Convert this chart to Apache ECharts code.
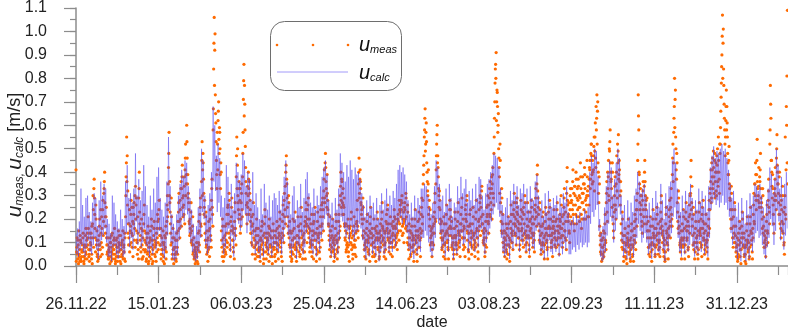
<!DOCTYPE html>
<html>
<head>
<meta charset="utf-8">
<title>u_meas / u_calc</title>
<script src="https://cdn.jsdelivr.net/npm/echarts@6.0.0/dist/echarts.min.js"></script>
<style>
html, body { margin: 0; padding: 0; background: #fff; }
#main { width: 788px; height: 330px; }
</style>
</head>
<body>
<div id="main"></div>
<script>
// record starts 26.11.22; measured values every 4 h (two sets of 3/day), calculated every 12 h
var startDate = new Date(2022, 10, 26);
var measPerDay = 3;
var calcPerDay = 2;
var dateLabels = ['26.11.22', '15.01.23', '06.03.23', '25.04.23', '14.06.23',
                  '03.08.23', '22.09.23', '11.11.23', '31.12.23'];

// flow speed in cm/s (one row = 10 days)
// measured, readings at 0, 8, 16 h
var uMeasCm = [
  41,6,12, 3,9,15, 5,2,11, 10,4,7, 6,14,2, 4,9,13, 16,8,3, 12,21,7, 5,14,10, 9,3,17,
  18,30,8, 37,22,12, 26,9,15, 5,11,3, 13,20,7, 24,10,16, 8,28,19, 33,40,21, 17,25,9, 6,12,4,
  3,8,12, 10,2,6, 14,5,9, 7,16,3, 2,11,8, 12,4,15, 6,9,2, 13,7,10, 4,15,6, 9,3,12,
  21,38,55, 47,32,18, 12,24,9, 17,28,14, 8,19,25, 22,11,30, 34,26,15, 10,21,7, 29,40,18, 13,6,20,
  9,15,4, 18,26,11, 7,14,3, 12,5,17, 2,10,6, 15,8,20, 5,11,2, 13,19,8, 4,9,14, 16,22,10,
  20,28,13, 9,16,5, 12,7,15, 4,10,13, 8,17,6, 19,30,24, 42,57,36, 23,14,29, 10,5,16, 7,12,3,
  5,11,2, 14,8,19, 23,31,16, 28,20,36, 33,43,25, 30,22,38, 41,52,35, 60,46,39, 31,24,18, 20,14,27,
  15,9,21, 6,12,4, 3,8,5, 10,2,7, 14,19,9, 22,29,17, 36,53,41, 44,31,25, 18,11,23, 9,15,6,
  12,19,8, 16,24,11, 28,37,22, 58,84,106, 92,73,61, 45,33,52, 62,70,48, 57,39,44, 15,8,20, 6,12,4,
  9,17,5, 14,22,10, 26,18,31, 12,7,19, 21,29,15, 11,6,16, 19,27,13, 38,55,43, 30,24,36, 22,33,17,
  27,35,21, 48,71,86, 77,58,42, 31,22,27, 25,40,33, 36,28,19, 14,21,9, 18,27,12, 8,15,5, 13,20,7,
  10,16,6, 4,11,8, 15,9,19, 7,13,3, 18,24,12, 6,10,14, 11,5,17, 20,13,8, 9,15,4, 12,18,7,
  8,13,5, 15,10,19, 6,12,9, 17,23,11, 10,4,14, 19,26,13, 28,21,34, 40,47,35, 25,17,30, 12,19,8,
  6,14,3, 11,20,8, 16,9,23, 4,10,7, 13,21,17, 9,15,5, 18,25,12, 7,13,10, 14,6,19, 21,27,15,
  24,17,29, 12,20,8, 15,9,22, 6,13,18, 19,11,25, 8,14,5, 16,23,12, 10,6,17, 21,14,26, 18,29,24,
  32,41,27, 48,36,30, 39,28,22, 17,11,21, 9,15,6, 13,20,10, 7,12,4, 16,22,11, 10,6,14, 19,26,15,
  30,40,25, 36,27,33, 22,29,17, 11,18,7, 14,8,20, 6,12,16, 17,10,23, 9,15,5, 13,21,11, 8,14,18,
  19,28,15, 35,46,31, 41,33,26, 24,18,29, 12,20,9, 7,14,11, 16,22,13, 10,5,15, 18,25,14, 9,16,6,
  13,20,8, 5,11,15, 17,23,12, 8,14,4, 12,18,10, 20,27,16, 9,15,6, 14,7,19, 22,16,26, 11,18,8,
  15,21,10, 8,13,17, 19,11,24, 13,20,16, 10,18,14, 22,15,28, 18,26,21, 24,30,17, 14,23,19, 27,20,31,
  21,15,26, 12,7,18, 9,15,5, 14,20,11, 6,12,9, 17,24,13, 10,5,15, 19,13,23, 8,16,12, 22,29,18,
  28,39,47, 58,67,52, 61,44,36, 30,41,25, 17,24,12, 10,16,7, 14,21,18, 23,31,19, 41,52,60, 47,38,30,
  32,24,18, 12,19,8, 15,9,21, 6,13,10, 18,26,14, 11,7,16, 20,28,24, 13,19,9, 7,12,5, 16,23,12,
  10,17,7, 19,27,14, 8,13,18, 22,15,29, 12,20,9, 16,8,24, 26,19,30, 11,17,6, 14,22,18, 9,15,12,
  18,25,13, 7,14,10, 20,28,16, 12,6,19, 24,17,30, 29,21,34, 15,22,11, 9,16,6, 19,12,25, 22,30,18,
  26,33,21, 31,24,38, 35,42,29, 48,63,78, 86,91,70, 74,57,65, 46,38,52, 27,19,33, 14,22,10, 8,15,12,
  11,18,6, 16,9,21, 5,12,8, 19,26,14, 10,15,22, 24,31,18, 13,20,27, 29,22,16, 12,18,9, 21,28,15,
  16,23,11, 25,18,30, 9,15,13, 20,27,17, 12,7,19, 23,16,28, 14,21,10, 18,11,24, 26,33,21, 35,43,29,
  22,15,27, 10,17,7, 14,21,18, 6,12,9, 19,25,14, 11,8,16, 23,17,28, 13,20,10, 8,14,19, 17,24,12,
  12,19,8, 20,27,15, 9,14,17, 22,16,30, 13,21,10, 18,25,33, 15,23,11, 31,42,26, 19,27,14, 24,33,18,
  28,19,36, 22,31,15, 34,26,40, 18,29,24, 37,21,30, 25,44,33, 16,27,38, 31,20,35, 39,28,23, 26,45,32,
  30,21,37, 41,33,48, 52,39,45, 36,47,55, 49,61,42, 58,73,66, 44,31,38, 17,9,14, 5,11,3, 8,15,6,
  14,22,10, 27,36,19, 33,45,28, 49,58,40, 37,29,44, 21,15,26, 30,38,24, 35,47,29, 44,56,39, 41,30,36,
  18,11,23, 7,13,4, 10,16,6, 3,9,12, 14,20,8, 6,11,2, 12,18,15, 5,9,13, 16,22,10, 20,28,24,
  45,73,58, 39,27,33, 22,30,17, 28,36,21, 34,45,30, 24,18,29, 12,19,8, 15,9,21, 6,12,10, 17,24,13,
  9,16,5, 20,13,25, 11,18,7, 14,8,19, 23,30,17, 10,15,12, 6,11,3, 18,25,14, 12,7,16, 21,28,19,
  25,33,20, 39,52,44, 63,80,71, 55,41,48, 27,19,32, 14,21,10, 8,15,12, 18,11,24, 9,16,6, 20,27,15,
  12,19,8, 17,26,22, 31,45,27, 20,13,25, 7,14,10, 16,23,12, 10,5,15, 19,27,14, 13,20,9, 22,16,28,
  11,18,7, 15,22,10, 8,13,17, 20,28,24, 33,41,29, 38,46,35, 42,31,48, 36,44,30, 40,50,34, 45,37,52,
  52,66,78, 90,107,95, 84,69,58, 47,62,75, 68,55,44, 39,51,33, 28,20,34, 16,24,12, 21,14,27, 10,17,8,
  6,12,3, 14,9,19, 4,10,7, 17,23,12, 9,14,5, 2,8,11, 15,21,10, 7,13,4, 18,25,14, 11,6,16,
  22,31,18, 35,44,28, 39,54,33, 30,42,25, 36,48,29, 27,20,33, 14,21,10, 8,15,12, 19,26,14, 28,37,23,
  52,77,63, 45,34,39, 26,18,31, 33,42,28, 46,56,40, 35,27,38, 22,30,16, 28,19,34, 14,23,10, 25,55,20, 68,81,109
];

// measured, readings at 4, 12, 20 h
var uMeasCmB = [
  2,8,5, 11,1,4, 7,13,3, 2,6,9, 12,4,1, 8,3,6, 5,11,14, 9,16,4, 2,7,12, 14,5,1,
  12,24,33, 29,16,6, 20,11,4, 2,7,9, 17,9,4, 14,21,5, 24,13,31, 36,27,14, 21,12,5, 9,3,7,
  6,1,10, 4,13,8, 3,7,11, 12,5,1, 9,4,6, 2,8,10, 13,4,7, 1,9,5, 11,3,8, 6,14,2,
  30,44,36, 26,14,9, 18,6,15, 22,10,25, 13,4,18, 27,16,8, 20,29,11, 5,14,3, 33,23,11, 8,16,3,
  3,12,7, 22,15,6, 10,2,9, 6,14,1, 8,4,12, 11,3,17, 1,7,9, 16,5,11, 10,2,6, 12,19,7,
  24,16,9, 13,3,7, 5,10,2, 9,1,7, 12,3,14, 26,21,35, 48,30,27, 18,9,21, 3,12,7, 1,8,5,
  8,3,6, 11,5,15, 27,19,12, 24,33,17, 38,29,21, 26,34,18, 46,30,39, 53,35,29, 27,19,13, 16,23,10,
  11,17,5, 9,3,7, 1,6,2, 4,8,1, 10,15,6, 25,18,13, 45,30,48, 37,22,28, 14,21,8, 5,11,2,
  7,15,4, 20,13,8, 33,25,17, 67,95,77, 99,65,53, 39,57,41, 66,54,59, 50,33,40, 11,4,17, 2,9,7,
  13,6,11, 18,8,25, 22,14,28, 9,4,15, 25,17,11, 8,14,3, 23,16,9, 47,33,50, 27,20,33, 28,14,20,
  31,24,38, 57,79,64, 69,51,36, 26,18,34, 30,37,22, 31,24,14, 10,17,5, 22,15,8, 11,3,9, 16,10,4,
  13,4,8, 7,2,12, 11,17,5, 10,1,6, 14,21,9, 3,8,12, 7,14,2, 16,9,4, 12,6,1, 8,15,10,
  4,10,2, 12,7,16, 9,3,14, 13,20,8, 6,12,2, 22,16,10, 31,24,18, 43,37,29, 21,14,27, 9,15,4,
  9,2,6, 15,5,12, 19,12,7, 8,2,13, 10,17,6, 12,4,8, 21,15,9, 3,10,6, 11,17,3, 24,18,10,
  20,26,14, 16,6,10, 18,11,4, 9,15,3, 22,14,8, 11,2,7, 19,13,6, 14,3,8, 24,17,11, 27,21,15,
  37,29,44, 42,33,25, 31,24,18, 13,7,15, 4,12,8, 17,6,11, 2,9,5, 13,19,7, 3,11,8, 22,12,17,
  34,28,37, 31,22,26, 25,18,12, 15,6,9, 10,17,4, 9,2,13, 14,20,7, 12,3,8, 17,9,5, 11,4,15,
  24,17,12, 40,29,37, 36,27,22, 20,13,25, 15,7,4, 10,3,8, 19,11,6, 7,12,2, 21,14,9, 12,4,10,
  10,4,16, 8,2,12, 14,20,7, 11,3,6, 15,8,13, 23,17,11, 12,4,9, 10,3,15, 18,24,12, 14,6,10,
  12,5,18, 10,4,14, 16,8,21, 17,9,12, 13,7,20, 19,11,24, 23,15,28, 27,13,20, 18,10,25, 24,16,29,
  17,10,23, 9,3,15, 12,4,8, 17,8,13, 9,2,6, 20,11,15, 7,2,12, 15,8,20, 11,4,14, 25,15,21,
  35,43,55, 63,49,57, 53,40,32, 35,22,28, 20,9,15, 13,4,10, 17,9,14, 27,20,35, 47,56,44, 42,33,25,
  28,20,14, 15,7,11, 12,4,18, 9,3,14, 22,15,10, 8,3,13, 24,17,21, 16,8,12, 10,3,7, 13,20,9,
  13,5,9, 23,15,10, 11,4,15, 18,25,12, 15,7,17, 12,4,20, 22,28,15, 14,7,3, 17,10,24, 12,5,8,
  14,21,9, 11,4,8, 23,15,12, 9,3,15, 20,27,13, 25,32,18, 18,10,14, 12,4,9, 15,8,21, 26,19,14,
  29,22,36, 27,33,20, 39,31,26, 55,70,84, 80,62,75, 68,60,50, 42,31,45, 23,15,29, 18,10,6, 12,4,9,
  14,7,3, 13,5,18, 9,2,11, 16,22,10, 13,7,18, 27,21,14, 17,9,23, 25,19,12, 15,7,4, 18,24,11,
  20,13,8, 22,14,27, 12,6,10, 17,23,13, 9,4,15, 20,12,25, 18,8,13, 14,6,20, 29,23,17, 39,32,25,
  18,11,24, 13,5,9, 17,10,23, 9,3,13, 16,22,10, 7,3,13, 20,13,25, 16,8,13, 11,4,16, 21,14,9,
  15,8,11, 24,17,12, 12,5,20, 19,12,26, 16,8,13, 22,29,15, 12,19,7, 36,28,21, 22,15,10, 30,21,27,
  33,24,41, 26,18,34, 30,22,37, 21,33,28, 34,25,19, 29,38,22, 20,31,27, 35,24,42, 33,20,29, 30,38,21,
  34,26,42, 45,37,52, 47,35,40, 41,51,32, 55,46,68, 63,52,70, 40,27,35, 13,6,11, 2,8,5, 12,4,9,
  18,11,7, 31,23,40, 38,30,50, 53,44,36, 33,25,40, 18,12,23, 34,26,20, 40,32,52, 49,37,45, 36,26,32,
  14,8,20, 10,2,7, 13,4,9, 6,1,10, 11,17,5, 9,3,7, 15,9,4, 8,2,11, 19,13,7, 24,17,31,
  52,64,40, 35,24,30, 26,19,14, 32,24,18, 40,36,26, 28,21,15, 15,8,5, 12,4,17, 9,2,7, 20,14,9,
  12,4,8, 16,9,22, 14,5,10, 11,4,16, 27,20,14, 13,7,4, 9,2,6, 22,15,10, 9,3,13, 24,17,12,
  29,22,17, 46,36,57, 68,59,75, 50,37,44, 23,16,29, 17,9,6, 11,3,9, 15,8,21, 12,3,9, 23,17,11,
  15,7,4, 21,14,30, 38,24,34, 17,9,22, 10,3,6, 19,12,8, 13,3,7, 23,15,10, 16,8,4, 25,19,12,
  14,5,9, 18,11,6, 11,3,14, 24,16,31, 36,27,44, 41,33,49, 38,45,29, 40,32,47, 43,36,55, 40,31,48,
  59,72,85, 98,80,101, 77,63,52, 55,68,58, 61,48,39, 45,35,29, 24,16,31, 20,12,8, 17,10,24, 13,6,4,
  9,2,5, 11,4,16, 7,1,12, 14,20,8, 12,4,8, 5,1,9, 18,11,6, 10,3,8, 21,15,9, 14,3,12,
  26,19,35, 30,39,24, 45,36,28, 34,27,38, 41,33,25, 23,16,30, 17,8,13, 11,4,9, 22,15,10, 32,25,18,
  58,69,45, 40,29,33, 22,14,28, 37,30,24, 50,43,35, 31,22,40, 18,26,12, 24,15,30, 18,9,5, 30,22,41, 60,44,35
];

// calculated, at 0 and 12 h
var uCalcCm = [
  14,5, 16,4, 19,7, 33,9, 26,6, 21,4, 29,8, 30,11, 23,6, 19,5,
  27,9, 31,12, 29,7, 17,3, 28,8, 36,11, 30,13, 35,16, 33,10, 20,4,
  18,4, 14,2, 30,8, 27,9, 22,5, 19,3, 16,6, 24,7, 20,4, 17,5,
  36,14, 43,18, 29,8, 31,12, 27,7, 33,13, 48,19, 30,9, 37,14, 28,8,
  32,10, 43,16, 34,9, 26,6, 21,4, 30,8, 24,5, 33,11, 27,7, 38,13,
  42,15, 29,8, 24,5, 21,3, 27,7, 36,13, 55,24, 34,10, 22,3, 18,2,
  15,3, 22,5, 30,11, 35,16, 41,21, 38,19, 45,24, 44,22, 34,14, 29,10,
  24,6, 18,3, 13,2, 17,3, 25,6, 33,12, 50,23, 45,20, 30,9, 22,5,
  26,7, 31,10, 40,18, 68,36, 60,32, 47,23, 52,27, 46,21, 30,9, 25,5,
  29,8, 43,14, 38,16, 27,6, 35,13, 24,4, 31,11, 44,20, 40,18, 36,15,
  39,17, 48,24, 45,22, 34,14, 40,19, 37,15, 28,8, 40,13, 26,5, 31,9,
  25,6, 20,3, 33,10, 22,4, 35,12, 27,7, 24,5, 30,9, 21,4, 28,8,
  31,9, 29,7, 26,6, 32,11, 24,5, 30,10, 38,16, 45,21, 36,13, 27,7,
  22,4, 30,8, 34,11, 20,3, 28,9, 25,6, 35,13, 23,5, 29,8, 37,14,
  40,16, 31,9, 27,7, 25,5, 33,11, 24,4, 30,10, 26,6, 34,12, 38,15,
  42,20, 45,22, 39,17, 28,8, 22,4, 27,7, 20,3, 29,9, 24,5, 33,11,
  48,21, 44,19, 40,16, 36,12, 43,15, 38,10, 45,17, 41,13, 37,11, 42,14,
  39,15, 40,18, 37,16, 31,11, 26,6, 21,3, 28,8, 23,4, 30,9, 25,5,
  27,7, 22,4, 29,9, 20,2, 26,6, 31,10, 24,5, 28,7, 33,12, 25,6,
  30,9, 26,6, 32,11, 29,8, 35,14, 41,19, 43,21, 40,18, 42,20, 39,17,
  36,14, 28,7, 22,4, 27,6, 21,3, 30,9, 24,5, 29,8, 26,6, 33,12,
  33,12, 35,15, 34,13, 30,10, 25,6, 22,4, 27,7, 34,12, 45,20, 42,18,
  35,14, 28,7, 30,9, 23,4, 33,11, 26,6, 35,13, 29,8, 21,3, 27,7,
  25,5, 34,11, 29,8, 38,14, 31,9, 33,10, 37,15, 27,6, 32,10, 28,7,
  33,11, 26,6, 35,12, 29,8, 38,15, 37,16, 30,9, 24,5, 31,10, 35,13,
  37,16, 40,19, 43,22, 48,25, 47,27, 46,24, 42,21, 33,12, 26,6, 22,4,
  25,5, 29,8, 21,3, 32,10, 28,7, 35,13, 30,9, 34,12, 26,6, 33,11,
  31,9, 35,13, 27,6, 33,11, 24,5, 34,12, 29,8, 28,7, 36,15, 39,17,
  30,9, 24,5, 28,7, 21,3, 31,10, 23,4, 32,11, 27,6, 25,5, 29,8,
  26,6, 30,9, 22,4, 29,8, 25,5, 31,10, 27,7, 34,12, 23,5, 20,5,
  19,7, 21,8, 18,6, 22,9, 20,7, 23,10, 19,8, 21,9, 24,10, 22,8,
  25,10, 40,18, 47,23, 44,21, 50,24, 49,26, 38,15, 20,4, 14,2, 17,3,
  25,6, 34,13, 40,18, 45,21, 42,19, 30,10, 37,15, 44,20, 50,25, 46,22,
  30,10, 22,4, 26,6, 19,3, 28,8, 21,3, 27,7, 23,4, 30,9, 33,12,
  40,18, 36,15, 31,10, 33,12, 35,14, 30,10, 24,5, 27,7, 21,3, 29,8,
  23,4, 32,10, 27,6, 25,5, 35,13, 28,7, 20,2, 31,9, 26,6, 34,12,
  36,14, 45,21, 50,25, 44,20, 33,12, 27,6, 23,4, 30,9, 24,5, 32,10,
  26,6, 31,9, 35,13, 29,8, 22,4, 28,7, 24,5, 33,11, 27,6, 32,10,
  25,5, 30,8, 23,4, 34,12, 42,24, 47,27, 51,29, 46,26, 49,28, 48,25,
  50,27, 52,30, 49,26, 50,27, 46,24, 41,21, 35,14, 29,9, 32,11, 26,6,
  21,3, 27,6, 19,2, 29,8, 23,4, 18,2, 28,7, 22,3, 31,9, 26,6,
  30,10, 35,14, 34,15, 32,12, 35,13, 30,9, 25,5, 21,3, 28,8, 33,12,
  42,20, 39,17, 31,9, 37,15, 50,24, 43,19, 33,11, 38,14, 29,7, 35,13, 40,16
];

var FONT = 'Liberation Sans, Arial, sans-serif';
var ORANGE = '#ff6a00';
var LINE = 'rgba(75, 60, 240, 0.45)';

var measData = uMeasCm.map(function (v, i) { return [i / measPerDay, v / 100]; })
  .concat(uMeasCmB.map(function (v, i) { return [i / measPerDay + 1 / 6, v / 100]; }));
var calcData = uCalcCm.map(function (v, i) { return [i / calcPerDay, v / 100]; });

var chart = echarts.init(document.getElementById('main'), null, { renderer: 'canvas' });

var axisGrey = '#8c8c8c';

var option = {
  animation: false,
  backgroundColor: '#fff',
  textStyle: { fontFamily: FONT },
  grid: { left: 76, right: 0, top: 8, bottom: 64, containLabel: false, outerBoundsMode: 'none' },
  xAxis: [{
    type: 'value', min: 0, max: 431, interval: 50,
    name: 'date', nameLocation: 'middle', nameGap: 49, nameMoveOverlap: false,
    nameTextStyle: { fontFamily: FONT, fontSize: 16, color: '#222' },
    axisLine: { show: true, onZero: false, lineStyle: { color: axisGrey, width: 1.5 } },
    axisTick: { show: true, length: 17, lineStyle: { color: axisGrey, width: 1.2 } },
    axisLabel: {
      margin: 31, fontFamily: FONT, fontSize: 16, color: '#222', showMaxLabel: false,
      formatter: function (v) {
        var k = Math.round(v / 50);
        return (Math.abs(v - k * 50) < 1e-6 && k < dateLabels.length) ? dateLabels[k] : '';
      }
    },
    splitLine: { show: false }
  }, {
    type: 'value', min: 0, max: 431, interval: 25, position: 'bottom',
    axisLine: { show: false },
    axisTick: { show: true, length: 9, lineStyle: { color: axisGrey, width: 1.2 } },
    axisLabel: { show: false },
    splitLine: { show: false }
  }],
  yAxis: [{
    type: 'value', min: 0, max: 1.1, interval: 0.1,
    name: '{i|u}{s|meas}{s|, }{i|u}{s|calc}{n| [m/s]}',
    nameLocation: 'middle', nameGap: 50, nameRotate: 90, nameMoveOverlap: false,
    nameTextStyle: {
      color: '#222',
      padding: [0, 36, 0, 0],
      rich: {
        i: { fontFamily: FONT, fontStyle: 'italic', fontSize: 21, color: '#222' },
        s: { fontFamily: FONT, fontStyle: 'italic', fontSize: 12, color: '#222', padding: [9, 0, 0, 0] },
        n: { fontFamily: FONT, fontSize: 18, color: '#222' }
      }
    },
    axisLine: { show: true, onZero: false, lineStyle: { color: axisGrey, width: 1.5 } },
    axisTick: { show: true, length: 12, lineStyle: { color: axisGrey, width: 1.2 } },
    axisLabel: {
      margin: 29, fontFamily: FONT, fontSize: 16, color: '#222',
      formatter: function (v) { return v.toFixed(1); }
    },
    splitLine: { show: false }
  }, {
    type: 'value', min: 0, max: 1.1, interval: 0.05, position: 'left',
    axisLine: { show: false },
    axisTick: { show: true, length: 6, lineStyle: { color: axisGrey, width: 1.2 } },
    axisLabel: { show: false },
    splitLine: { show: false }
  }],
  series: [{
    name: 'u_meas', type: 'scatter', data: measData,
    symbol: 'circle', symbolSize: 3.2, silent: true, z: 1,
    itemStyle: { color: ORANGE, opacity: 1 }
  }, {
    name: 'u_calc', type: 'line', data: calcData,
    showSymbol: false, symbol: 'none', silent: true, z: 2,
    lineStyle: { color: LINE, width: 1 }
  }],
  graphic: [
    { type: 'rect', left: 270, top: 21, silent: true,
      shape: { width: 131, height: 69, r: 14 },
      style: { fill: '#fff', stroke: '#6e6e6e', lineWidth: 1 } },
    { type: 'circle', shape: { cx: 277, cy: 45, r: 1.3 }, style: { fill: ORANGE } },
    { type: 'circle', shape: { cx: 313, cy: 45, r: 1.3 }, style: { fill: ORANGE } },
    { type: 'circle', shape: { cx: 348, cy: 45, r: 1.3 }, style: { fill: ORANGE } },
    { type: 'line', shape: { x1: 277, y1: 72, x2: 348, y2: 72 },
      style: { stroke: 'rgba(100, 88, 245, 0.6)', lineWidth: 1 } },
    { type: 'text', x: 359, y: 45, style: {
        text: '{i|u}{s|meas}', verticalAlign: 'middle',
        rich: {
          i: { fontFamily: FONT, fontStyle: 'italic', fontSize: 20, fill: '#111' },
          s: { fontFamily: FONT, fontStyle: 'italic', fontSize: 11, fill: '#111', padding: [10, 0, 0, 0] }
        } } },
    { type: 'text', x: 359, y: 73, style: {
        text: '{i|u}{s|calc}', verticalAlign: 'middle',
        rich: {
          i: { fontFamily: FONT, fontStyle: 'italic', fontSize: 20, fill: '#111' },
          s: { fontFamily: FONT, fontStyle: 'italic', fontSize: 11, fill: '#111', padding: [10, 0, 0, 0] }
        } } }
  ]
};

chart.setOption(option);
</script>
</body>
</html>
